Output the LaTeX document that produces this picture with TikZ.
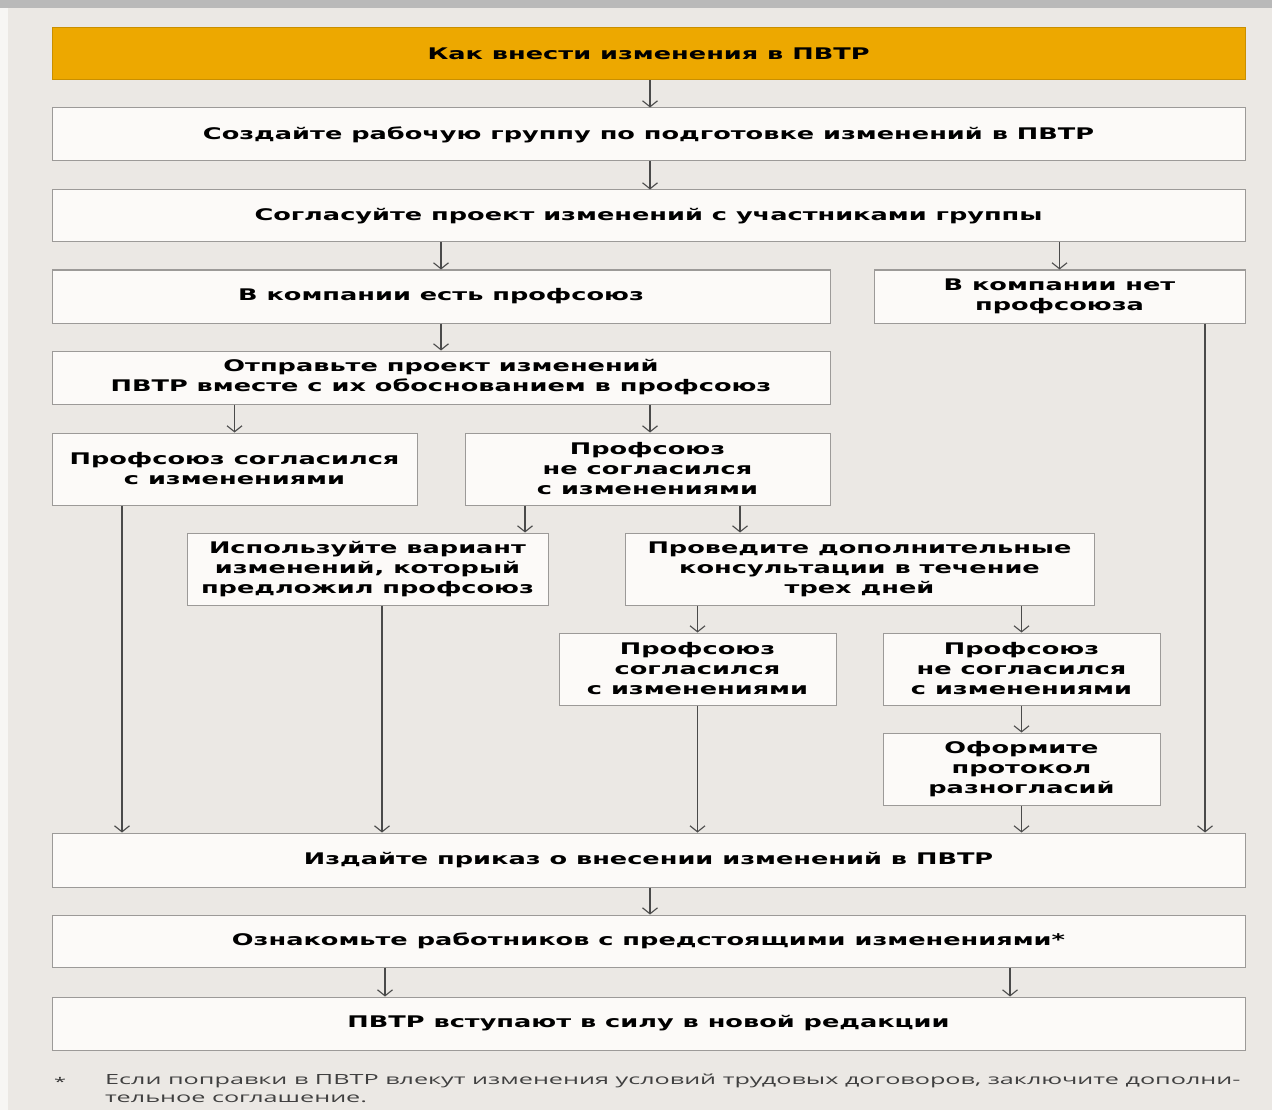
\documentclass[tikz,border=0pt]{standalone}
\usepackage{fontspec}
\usepackage{tikz}
\usetikzlibrary{arrows.meta, calc}
\newfontfamily\boxfont{DejaVu Sans}[FakeStretch=1.6]
\newfontfamily\notefont{Open Sans}[FakeStretch=1.8]
\definecolor{bgcol}{HTML}{EBE8E4}
\definecolor{titlecol}{HTML}{EDA800}
\definecolor{boxcol}{HTML}{FCFAF8}
\definecolor{edgecol}{HTML}{9C9A98}
\definecolor{arrcol}{HTML}{4A4A4A}

\begin{document}
\begin{tikzpicture}[x=1pt, y=-1pt,
    blk/.style={draw=edgecol, line width=1pt, fill=boxcol, inner sep=0pt,
      align=center, font=\boxfont\bfseries\fontsize{16}{20}\selectfont},
    titleblk/.style={blk, fill=titlecol, draw=titlecol!85!black},
    arr/.style={draw=arrcol, line width=1.1pt, -{Straight Barb[length=6pt, width=15pt]}}]
    \useasboundingbox (0,0) rectangle (1272,1110);
    \fill[bgcol] (0,0) rectangle (1272,1110);
    \fill[gray!55] (0,0) rectangle (1272,8);
    \fill[white!60!bgcol] (0,8) rectangle (8,1110);

    % main column
    \node[titleblk, minimum width=1193, minimum height=52] (title) at (648.5,54) {Как внести изменения в ПВТР};
    \node[blk, minimum width=1193, minimum height=53] (group) at (648.5,134.5) {Создайте рабочую группу по подготовке изменений в ПВТР};
    \node[blk, minimum width=1193, minimum height=52] (agree) at (648.5,216) {Согласуйте проект изменений с участниками группы};
    \node[blk, minimum width=778, minimum height=53] (union) at (441,296.5) {В компании есть профсоюз};
    \node[blk, minimum width=371, minimum height=53] (nounion) at (1059.5,296.5) {В компании нет\\профсоюза};
    \node[blk, minimum width=778, minimum height=53] (send) at (441,377.5) {Отправьте проект изменений\\ПВТР вместе с их обоснованием в профсоюз};

    % union answers
    \node[blk, minimum width=365, minimum height=72] (uyes) at (234.5,469) {Профсоюз согласился\\с изменениями};
    \node[blk, minimum width=365, minimum height=72] (uno) at (647.5,469) {Профсоюз\\не согласился\\с изменениями};
    \node[blk, minimum width=361, minimum height=72] (usevar) at (367.5,569) {Используйте вариант\\изменений, который\\предложил профсоюз};
    \node[blk, minimum width=469, minimum height=72] (consult) at (859.5,569) {Проведите дополнительные\\консультации в течение\\трех дней};
    \node[blk, minimum width=277, minimum height=72] (cyes) at (697.5,669) {Профсоюз\\согласился\\с изменениями};
    \node[blk, minimum width=277, minimum height=72] (cno) at (1021.5,669) {Профсоюз\\не согласился\\с изменениями};
    \node[blk, minimum width=277, minimum height=72] (protocol) at (1021.5,769) {Оформите\\протокол\\разногласий};

    % final steps
    \node[blk, minimum width=1193, minimum height=54] (order) at (648.5,860) {Издайте приказ о внесении изменений в ПВТР};
    \node[blk, minimum width=1193, minimum height=52] (inform) at (648.5,941) {Ознакомьте работников с предстоящими изменениями*};
    \node[blk, minimum width=1193, minimum height=53] (force) at (648.5,1023.5) {ПВТР вступают в силу в новой редакции};

    \node[anchor=north, text=black!80, font=\notefont\fontsize{12}{18}\selectfont] (star) at (60,1074) {*};
    \node[anchor=north west, align=left, inner sep=0pt, text=black!75,
      font=\notefont\fontsize{14}{18}\selectfont] (note) at (105,1074)
      {Если поправки в ПВТР влекут изменения условий трудовых договоров, заключите дополни-\\тельное соглашение.};

    % arrows
    \draw[arr] (title.south -| 650,0) -- (group.north -| 650,0);
    \draw[arr] (group.south -| 650,0) -- (agree.north -| 650,0);
    \draw[arr] (agree.south -| union) -- (union);
    \draw[arr] (agree.south -| nounion) -- (nounion);
    \draw[arr] (union) -- (send);
    \draw[arr] (send.south -| uyes) -- (uyes);
    \draw[arr] (send.south -| 650,0) -- (uno.north -| 650,0);
    \draw[arr] (uno.south -| 525,0) -- (usevar.north -| 525,0);
    \draw[arr] (uno.south -| 740,0) -- (consult.north -| 740,0);
    \draw[arr] (consult.south -| cyes) -- (cyes);
    \draw[arr] (consult.south -| cno) -- (cno);
    \draw[arr] (cno) -- (protocol);
    \draw[arr] (uyes.south -| 122,0) -- (order.north -| 122,0);
    \draw[arr] (usevar.south -| 382,0) -- (order.north -| 382,0);
    \draw[arr] (cyes) -- (order.north -| cyes);
    \draw[arr] (protocol) -- (order.north -| protocol);
    \draw[arr] (nounion.south -| 1205,0) -- (order.north -| 1205,0);
    \draw[arr] (order.south -| 650,0) -- (inform.north -| 650,0);
    \draw[arr] (inform.south -| 385,0) -- (force.north -| 385,0);
    \draw[arr] (inform.south -| 1010,0) -- (force.north -| 1010,0);
\end{tikzpicture}
\end{document}
